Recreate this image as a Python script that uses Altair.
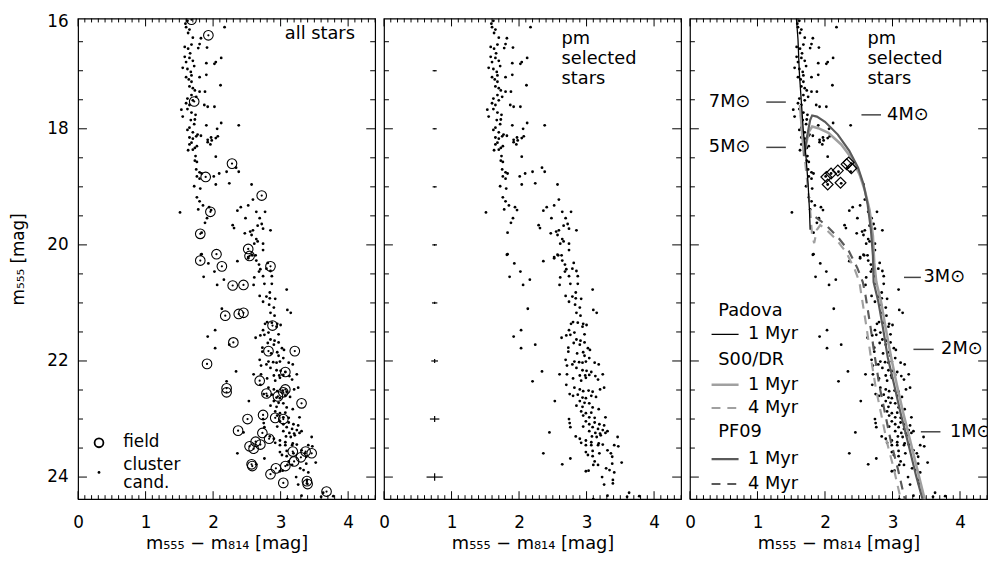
import altair as alt
import pandas as pd

FONT = "DejaVu Sans"

# ---------------- data: cluster candidates (m555 - m814, m555) ----------------
cl_color = [
    1.58, 1.62, 1.59, 1.60, 1.65, 2.17, 1.70, 1.82, 1.80, 1.91, 1.68, 1.58, 1.63, 1.78, 1.58, 1.65, 1.70, 1.60, 1.90, 2.02,
    2.12, 1.55, 1.62, 1.67, 1.68, 1.60, 1.80, 1.90, 1.68, 1.65, 2.11, 1.73, 1.80, 1.88, 1.68, 1.70, 1.65, 1.87, 1.92, 2.02,
    1.53, 1.62, 1.68, 1.74, 1.55, 1.73, 1.90, 2.12, 2.06, 2.38, 1.65, 1.62, 1.70, 1.77, 1.63, 1.66, 1.72, 1.64, 1.70, 1.75,
    1.62, 1.67, 1.72, 1.60, 2.04, 1.92, 1.97,
    1.65, 1.70, 1.75, 1.82, 1.92, 1.98, 2.04, 2.07, 1.68, 1.65, 1.73, 1.76, 1.63, 1.70, 1.96, 1.74, 2.04, 1.73, 1.76, 1.75,
    1.80, 1.83, 1.76, 1.80, 2.01, 2.09, 2.20, 2.34, 2.38, 1.72, 1.81, 2.04, 2.24, 2.57, 1.76, 1.80, 1.85, 1.78, 1.51, 1.94,
    1.97, 2.41, 2.52, 2.59, 2.36, 2.64, 2.77, 1.91, 1.88, 2.48, 2.69, 2.29, 2.31, 2.66, 2.72, 2.74, 2.85, 2.47, 2.55, 2.59,
    2.57, 1.83, 2.64, 2.66, 2.74, 2.61, 2.74, 1.83, 2.57, 2.63, 2.52,
    1.82, 2.36, 2.52, 2.58, 2.64, 2.68, 2.81, 1.93, 2.70, 2.79, 2.85, 2.02, 2.68, 1.86, 2.16, 2.61, 2.74, 2.87, 2.06, 2.60,
    2.76, 2.87, 3.09, 2.69, 2.79, 2.84, 2.92, 2.74, 2.84, 2.83, 2.90, 2.13, 3.10, 3.15, 2.85, 2.91, 2.80, 2.77, 2.87, 2.95,
    3.00, 2.94, 2.74, 2.03, 1.92, 2.70, 2.76, 2.82, 2.97, 2.63, 2.85, 2.91, 2.97, 2.24, 2.81, 2.73, 2.90, 3.02, 3.05, 2.03,
    2.73, 2.86, 2.95, 2.97, 3.04, 2.69, 2.82, 2.89, 2.94, 2.99, 3.12, 3.18, 2.71, 2.79, 2.85, 2.94, 3.00, 3.07, 2.34, 2.60,
    2.71, 2.90, 2.98, 3.13, 3.24,
    2.20, 2.80, 2.92, 2.99, 3.04, 3.17, 2.70, 2.82, 2.90, 2.95, 3.03, 3.09, 3.20, 3.26, 2.75, 2.80, 2.87, 2.94, 2.99, 3.07,
    3.14, 2.53, 2.90, 2.97, 3.04, 2.85, 2.94, 3.09, 3.18, 2.92, 2.99, 3.07, 2.95, 3.04, 3.12, 3.28, 2.74, 2.75, 2.76, 2.99,
    3.04, 3.12, 3.19, 3.26, 2.95, 3.09, 3.17, 3.24, 3.31, 2.45, 3.04, 3.13, 3.20, 3.28, 2.84, 3.08, 3.15, 3.21, 3.46, 2.90,
    2.99, 3.07, 3.18, 3.24, 2.92, 2.99, 3.07, 3.17, 3.41, 3.47, 3.31, 2.99, 3.09, 3.19, 3.36, 2.36, 3.02, 3.09, 3.38, 2.76,
    3.12, 3.17, 3.38, 3.52, 2.64, 3.10, 3.29, 3.34, 2.99, 3.03, 3.41, 3.23, 3.39, 3.39, 3.26, 3.31, 3.63, 3.60, 3.78, 3.10,
]
cl_mag = [
    16.06, 16.14, 16.19, 16.25, 16.29, 16.25, 16.43, 16.44, 16.54, 16.60, 16.55, 16.59, 16.62, 16.61, 16.76, 16.78, 16.83, 16.85, 16.87, 16.88,
    16.78, 16.95, 16.97, 17.02, 17.08, 17.11, 17.11, 17.07, 17.19, 17.27, 17.25, 17.34, 17.36, 17.36, 17.42, 17.51, 17.59, 17.59, 17.62, 17.62,
    17.67, 17.66, 17.72, 17.76, 17.79, 17.84, 17.94, 17.90, 18.00, 17.94, 17.98, 18.02, 18.06, 18.10, 16.35, 16.70, 16.92, 17.15, 17.30, 17.45,
    17.48, 17.85, 17.92, 17.56, 16.85, 18.23, 18.15,
    18.15, 18.17, 18.13, 18.12, 18.19, 18.20, 18.16, 18.13, 18.24, 18.27, 18.33, 18.30, 18.37, 18.36, 18.27, 18.47, 18.48, 18.55, 18.57, 18.70,
    18.75, 18.77, 18.82, 18.86, 18.82, 18.77, 18.74, 18.67, 18.74, 18.99, 19.03, 18.96, 18.94, 18.96, 19.18, 19.25, 19.32, 19.39, 19.44, 19.35,
    19.40, 19.35, 19.32, 19.22, 19.41, 19.43, 19.43, 19.54, 19.62, 19.54, 19.54, 19.66, 19.71, 19.67, 19.64, 19.72, 19.75, 19.80, 19.77, 19.75,
    19.83, 19.79, 19.90, 19.94, 19.98, 19.98, 20.09, 20.16, 20.17, 20.18, 20.21,
    20.17, 20.28, 20.23, 20.18, 20.27, 20.34, 20.31, 20.32, 20.42, 20.41, 20.45, 20.46, 20.46, 20.55, 20.60, 20.56, 20.54, 20.54, 20.69, 20.69,
    20.67, 20.67, 20.77, 20.88, 20.89, 20.92, 20.93, 20.98, 20.82, 21.03, 21.08, 21.10, 21.12, 21.17, 21.17, 21.22, 21.33, 21.36, 21.34, 21.36,
    21.38, 21.41, 21.47, 21.47, 21.58, 21.56, 21.55, 21.51, 21.54, 21.60, 21.63, 21.65, 21.68, 21.72, 21.69, 21.77, 21.72, 21.78, 21.81, 21.78,
    21.84, 21.87, 21.85, 21.91, 21.95, 21.98, 22.01, 22.02, 22.03, 22.01, 22.03, 22.06, 22.08, 22.06, 22.12, 22.16, 22.17, 22.19, 22.18, 22.23,
    22.23, 22.25, 22.25, 22.26, 22.23,
    22.35, 22.30, 22.34, 22.29, 22.24, 22.32, 22.41, 22.46, 22.49, 22.52, 22.51, 22.53, 22.49, 22.46, 22.57, 22.60, 22.58, 22.63, 22.64, 22.60,
    22.62, 22.69, 22.69, 22.72, 22.73, 22.77, 22.79, 22.80, 22.83, 22.87, 22.90, 22.89, 22.94, 22.97, 22.98, 22.97, 23.00, 23.07, 23.14, 23.04,
    23.09, 23.06, 23.09, 23.11, 23.13, 23.14, 23.17, 23.19, 23.21, 23.23, 23.21, 23.24, 23.25, 23.24, 23.30, 23.30, 23.31, 23.28, 23.31, 23.34,
    23.37, 23.40, 23.42, 23.44, 23.41, 23.45, 23.45, 23.45, 23.45, 23.47, 23.54, 23.57, 23.55, 23.59, 23.59, 23.59, 23.62, 23.64, 23.65, 23.68,
    23.73, 23.79, 23.77, 23.75, 23.78, 23.79, 23.85, 23.88, 23.90, 23.89, 23.92, 24.00, 24.05, 24.11, 24.13, 24.32, 24.27, 24.34, 24.33, 24.38,
]

# ---------------- field stars ----------------
field_color = [
    1.68, 1.93, 1.72, 2.28, 1.89, 2.72, 1.96, 1.81, 2.52, 2.05, 1.81, 2.54, 2.13, 2.85, 2.29, 2.45, 2.18, 2.38, 2.45, 2.88,
    2.30, 1.91, 2.82, 3.21, 3.07, 2.69, 2.20, 2.20, 2.79, 3.04, 3.07, 3.31, 2.96, 2.74, 2.51, 2.92, 3.04, 2.37, 2.73, 2.83,
    2.54, 2.60, 2.63, 2.70, 3.18, 3.37, 3.46, 3.30, 3.20, 2.57, 2.58, 3.07, 2.93, 2.85, 3.04, 3.39, 3.40, 3.68,
]
field_mag = [
    16.12, 16.39, 17.53, 18.60, 18.83, 19.15, 19.43, 19.81, 20.07, 20.16, 20.27, 20.19, 20.37, 20.37, 20.70, 20.69, 21.22, 21.19, 21.17, 21.39,
    21.68, 22.05, 21.83, 21.83, 22.19, 22.34, 22.47, 22.54, 22.56, 22.54, 22.49, 22.73, 22.61, 22.93, 23.00, 22.98, 23.00, 23.20, 23.24, 23.34,
    23.47, 23.51, 23.39, 23.44, 23.56, 23.56, 23.59, 23.66, 23.73, 23.78, 23.81, 23.81, 23.85, 23.95, 24.10, 24.07, 24.12, 24.25,
]

# ---------------- typical photometric errors (panel 2) ----------------
err_mag = [17, 18, 19, 20, 21, 22, 23, 24]
err_color = [0.75, 0.75, 0.75, 0.75, 0.75, 0.75, 0.75, 0.75]
err_dcolor = [0.03, 0.03, 0.03, 0.035, 0.04, 0.05, 0.07, 0.12]
err_dmag = [0.01, 0.01, 0.01, 0.015, 0.02, 0.035, 0.05, 0.065]

# ---------------- isochrones (panel 3) ----------------
padova1_c = [1.57, 1.60, 1.62, 1.65, 1.68, 1.72, 1.75, 1.77, 1.78]
padova1_m = [16.0, 16.46, 17.03, 17.54, 18.05, 18.50, 18.95, 19.40, 19.74]

s00_1_c = [1.63, 1.66, 1.69, 1.72, 1.76, 1.81, 1.90, 2.05, 2.24, 2.39, 2.51, 2.59, 2.66, 2.71, 2.73, 2.76,
           2.83, 2.90, 2.98, 3.06, 3.16, 3.27, 3.39, 3.50]
s00_1_m = [17.59, 18.05, 18.47, 18.27, 18.05, 17.96, 17.99, 18.07, 18.27, 18.50, 18.78, 19.06, 19.40, 19.85, 20.31, 20.64,
           20.98, 21.44, 21.94, 22.39, 22.90, 23.41, 23.98, 24.49]

s00_4_c = [1.64, 1.68, 1.73, 1.78, 1.81, 1.84, 1.88, 1.93, 2.02, 2.17, 2.32, 2.44, 2.51, 2.54, 2.61, 2.68,
           2.75, 2.84, 2.92, 3.02, 3.12, 3.15]
s00_4_m = [17.76, 18.27, 18.84, 19.40, 19.85, 19.97, 19.74, 19.66, 19.74, 19.91, 20.14, 20.42, 20.64, 20.87, 21.38, 21.94,
           22.45, 22.96, 23.41, 23.86, 24.37, 24.54]

pf09_1_c = [1.69, 1.73, 1.78, 1.81, 1.88, 2.00, 2.19, 2.36, 2.49, 2.57, 2.63, 2.68, 2.71, 2.72, 2.79, 2.86,
            2.93, 3.02, 3.12, 3.23, 3.35, 3.47]
pf09_1_m = [18.47, 18.16, 17.85, 17.77, 17.79, 17.88, 18.10, 18.38, 18.67, 18.95, 19.29, 19.74, 20.19, 20.64, 20.98, 21.44,
            21.94, 22.39, 22.90, 23.41, 23.98, 24.49]

pf09_4_c = [1.86, 1.93, 2.05, 2.20, 2.35, 2.48, 2.56, 2.60, 2.67, 2.74, 2.81, 2.90, 2.98, 3.08, 3.18, 3.21]
pf09_4_m = [19.52, 19.58, 19.70, 19.88, 20.10, 20.40, 20.64, 20.87, 21.38, 21.94, 22.45, 22.96, 23.41, 23.86, 24.37, 24.50]

# highlighted stars (diamonds)
dia_color = [2.02, 2.09, 2.19, 2.32, 2.39, 2.04, 2.23, 2.35]
dia_mag = [18.83, 18.77, 18.72, 18.61, 18.68, 18.96, 18.93, 18.58]

# mass labels: text, text position, tick-line span
mass_text = ["7M⊙", "5M⊙", "4M⊙", "3M⊙", "2M⊙", "1M⊙"]
mass_tx = [0.28, 0.28, 2.92, 3.46, 3.72, 3.85]
mass_y = [17.54, 18.32, 17.76, 20.56, 21.80, 23.22]
mass_l1 = [1.13, 1.13, 2.54, 3.17, 3.31, 3.42]
mass_l2 = [1.42, 1.42, 2.83, 3.42, 3.61, 3.71]

# legend of panel 3
leg_head = ["Padova", "S00/DR", "PF09"]
leg_head_y = [21.14, 21.99, 23.22]
leg_row_text = ["1 Myr", "1 Myr", "4 Myr", "1 Myr", "4 Myr"]
leg_row_y = [21.54, 22.41, 22.81, 23.69, 24.12]
leg_row_color = ["#000000", "#a0a0a0", "#a0a0a0", "#5a5a5a", "#5a5a5a"]

# axis ticks / labels
x_major = [0, 1, 2, 3, 4]
x_minor = [round(0.1 * i, 1) for i in range(45) if i % 10 != 0]
y_label_vals = [16.1, 18, 20, 22, 24]   # top label sits on the upper frame, printed "16"
y_major = [18, 20, 22, 24]
y_minor = [16.5, 17, 17.5, 18.5, 19, 19.5, 20.5, 21, 21.5, 22.5, 23, 23.5]

# ---------------- helpers ----------------
W, H = 301, 487
XS = alt.Scale(domain=[0, 4.4], nice=False, zero=False)
YS = alt.Scale(domain=[16.1, 24.38], nice=False, zero=False, reverse=True)
XTITLE = "m₅₅₅ − m₈₁₄ [mag]"
TS = 18  # in-plot text size


def x_axis():
    return alt.Axis(values=x_major, ticks=False, domain=False, grid=False, labelFlush=False,
                    title=XTITLE, labelFontSize=17, titleFontSize=18, labelPadding=16,
                    titlePadding=4, format="d", labelColor="black", titleColor="black",
                    titleFontWeight="normal")


def y_axis():
    return alt.Axis(values=y_label_vals, ticks=False, domain=False, grid=False, labelFlush=True,
                    labelFlushOffset=5, title="m₅₅₅ [mag]", labelFontSize=17, titleFontSize=17,
                    labelPadding=10, titlePadding=20, format="d", labelColor="black",
                    titleColor="black", titleFontWeight="normal")


def EX(field):
    # same axis definition on every layer, so the shared axis is kept
    return alt.X(field, scale=XS, axis=x_axis())


def EY(field, show):
    return alt.Y(field, scale=YS, axis=y_axis() if show else None)


def tick_layers(show):
    layers = []
    for vals, ln in ((x_major, 8), (x_minor, 4)):
        d = pd.DataFrame({"v": vals})
        layers.append(alt.Chart(d).mark_rule(color="black", strokeWidth=1).encode(
            x=EX("v:Q"), y=alt.value(H), y2=alt.value(H - ln)))
        layers.append(alt.Chart(d).mark_rule(color="black", strokeWidth=1).encode(
            x=EX("v:Q"), y=alt.value(0), y2=alt.value(ln)))
    for vals, ln in ((y_major, 9), (y_minor, 5)):
        d = pd.DataFrame({"v": vals})
        layers.append(alt.Chart(d).mark_rule(color="black", strokeWidth=1).encode(
            y=EY("v:Q", show), x=alt.value(0), x2=alt.value(ln)))
        layers.append(alt.Chart(d).mark_rule(color="black", strokeWidth=1).encode(
            y=EY("v:Q", show), x=alt.value(W), x2=alt.value(W - ln)))
    return layers


cl_df = pd.DataFrame({"c": cl_color, "m": cl_mag})
field_df = pd.DataFrame({"c": field_color, "m": field_mag})


def dots(show):
    return alt.Chart(cl_df).mark_circle(size=8, color="black", opacity=1, clip=True).encode(
        x=EX("c:Q"), y=EY("m:Q", show))


def txt(lines, xs, ys, show, align="left", size=TS, clip=False):
    d = pd.DataFrame({"t": lines, "x": xs, "y": ys})
    return alt.Chart(d).mark_text(align=align, baseline="middle", font=FONT, fontSize=size,
                                  color="black", clip=clip).encode(
        x=EX("x:Q"), y=EY("y:Q", show), text="t:N")


# ---------------- panel 1 ----------------
S1 = True
p1_layers = [dots(S1)]
p1_layers.append(alt.Chart(field_df).mark_point(shape="circle", size=95, filled=False, color="black",
                                                strokeWidth=1.1, opacity=1, clip=True).encode(
    x=EX("c:Q"), y=EY("m:Q", S1)))
p1_layers.append(alt.Chart(field_df).mark_circle(size=5, color="black", opacity=1, clip=True).encode(
    x=EX("c:Q"), y=EY("m:Q", S1)))
p1_layers.append(txt(["all stars"], [4.10], [16.36], S1, align="right"))
leg1 = pd.DataFrame({"c": [0.31], "m": [23.41]})
p1_layers.append(alt.Chart(leg1).mark_point(shape="circle", size=80, filled=False, color="black",
                                            strokeWidth=1.8, opacity=1).encode(
    x=EX("c:Q"), y=EY("m:Q", S1)))
leg2 = pd.DataFrame({"c": [0.31], "m": [23.92]})
p1_layers.append(alt.Chart(leg2).mark_circle(size=8, color="black", opacity=1).encode(
    x=EX("c:Q"), y=EY("m:Q", S1)))
p1_layers.append(txt(["field", "cluster", "cand."], [0.67, 0.67, 0.67], [23.40, 23.80, 24.10], S1, size=17))
p1 = alt.layer(*p1_layers, *tick_layers(S1)).properties(width=W, height=H)

# ---------------- panel 2 ----------------
err_df = pd.DataFrame({"c": err_color, "m": err_mag, "dc": err_dcolor, "dm": err_dmag})
err_df["c1"] = err_df["c"] - err_df["dc"]
err_df["c2"] = err_df["c"] + err_df["dc"]
err_df["m1"] = err_df["m"] - err_df["dm"]
err_df["m2"] = err_df["m"] + err_df["dm"]
p2_layers = [dots(False)]
p2_layers.append(alt.Chart(err_df).mark_rule(color="black", strokeWidth=1.2).encode(
    x=EX("c1:Q"), x2="c2:Q", y=EY("m:Q", False)))
p2_layers.append(alt.Chart(err_df).mark_rule(color="black", strokeWidth=1.2).encode(
    x=EX("c:Q"), y=EY("m1:Q", False), y2="m2:Q"))
p2_layers.append(txt(["pm", "selected", "stars"], [2.63, 2.63, 2.63], [16.45, 16.80, 17.14], False))
p2 = alt.layer(*p2_layers, *tick_layers(False)).properties(width=W, height=H)


# ---------------- panel 3 ----------------
def iso(cs, ms, color, width, dash=None):
    d = pd.DataFrame({"c": cs, "m": ms, "i": list(range(len(cs)))})
    kw = dict(color=color, strokeWidth=width, clip=True)
    if dash:
        kw["strokeDash"] = dash
    return alt.Chart(d).mark_line(**kw).encode(x=EX("c:Q"), y=EY("m:Q", False), order="i:Q")


p3_layers = [dots(False)]
p3_layers.append(iso(s00_4_c, s00_4_m, "#a0a0a0", 2.2, [9, 7]))
p3_layers.append(iso(pf09_4_c, pf09_4_m, "#5a5a5a", 2.2, [9, 7]))
p3_layers.append(iso(s00_1_c, s00_1_m, "#a0a0a0", 2.6))
p3_layers.append(iso(pf09_1_c, pf09_1_m, "#5a5a5a", 2.2))
p3_layers.append(iso(padova1_c, padova1_m, "#000000", 1.3))
dia_df = pd.DataFrame({"c": dia_color, "m": dia_mag})
p3_layers.append(alt.Chart(dia_df).mark_point(shape="diamond", size=120, filled=False, color="black",
                                              strokeWidth=1.2, opacity=1).encode(
    x=EX("c:Q"), y=EY("m:Q", False)))
mass_df = pd.DataFrame({"t": mass_text, "x": mass_tx, "y": mass_y, "l1": mass_l1, "l2": mass_l2})
p3_layers.append(alt.Chart(mass_df).mark_rule(color="#444444", strokeWidth=1.5).encode(
    x=EX("l1:Q"), x2="l2:Q", y=EY("y:Q", False)))
p3_layers.append(txt(mass_text, mass_tx, mass_y, False, clip=True))
p3_layers.append(txt(["pm", "selected", "stars"], [2.63, 2.63, 2.63], [16.45, 16.80, 17.14], False))
# legend
p3_layers.append(txt(leg_head, [0.42, 0.42, 0.42], leg_head_y, False))
p3_layers.append(txt(leg_row_text, [0.86] * 5, leg_row_y, False))
leg_dash = [[1, 0], [1, 0], [9, 7], [1, 0], [9, 7]]
leg_w = [1.3, 2.6, 2.2, 2.2, 2.2]
for k in range(5):
    d = pd.DataFrame({"x1": [0.32], "x2": [0.72], "y": [leg_row_y[k]]})
    p3_layers.append(alt.Chart(d).mark_rule(color=leg_row_color[k], strokeWidth=leg_w[k],
                                            strokeDash=leg_dash[k]).encode(
        x=EX("x1:Q"), x2="x2:Q", y=EY("y:Q", False)))
p3 = alt.layer(*p3_layers, *tick_layers(False)).properties(width=W, height=H)

chart = alt.hconcat(p1, p2, p3, spacing=0).properties(
    padding={"top": 0, "left": 0, "right": 0, "bottom": 0}
).configure_view(stroke="black", strokeWidth=1.2).configure_axis(
    labelFont=FONT, titleFont=FONT
)

chart.save("out.html", embed_options={"renderer": "svg", "actions": False})
